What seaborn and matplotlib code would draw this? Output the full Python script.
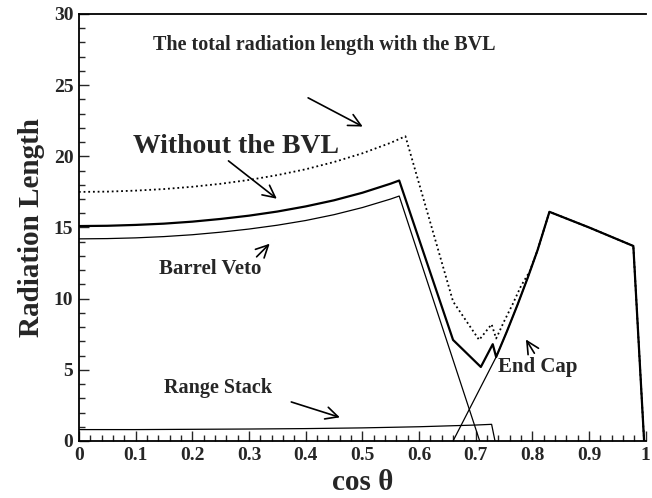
import matplotlib
matplotlib.use("Agg")
import matplotlib.pyplot as plt
from matplotlib.ticker import MultipleLocator
import pandas as pd
import seaborn as sns

# Total radiation length with the BVL (dotted)
total_cos = [0.00, 0.05, 0.10, 0.15, 0.20, 0.25, 0.30, 0.35, 0.40, 0.45, 0.50, 0.55,
             0.576, 0.660, 0.706, 0.728, 0.736, 0.750, 0.765, 0.780, 0.795, 0.809,
             0.830, 0.900, 0.978, 0.997]
total_len = [17.50, 17.52, 17.59, 17.70, 17.86, 18.07, 18.34, 18.68, 19.09, 19.60, 20.21, 20.95,
             21.41, 9.8, 7.1, 8.2, 7.2, 8.4, 9.6, 10.9, 11.9, 13.4,
             16.1, 15.0, 13.7, 0.0]

# Without the BVL (thick solid)
nobvl_cos = [0.00, 0.05, 0.10, 0.15, 0.20, 0.25, 0.30, 0.35, 0.40, 0.45, 0.50, 0.55,
             0.565, 0.660, 0.709, 0.730, 0.736, 0.755, 0.774, 0.792, 0.809, 0.830,
             0.900, 0.978, 0.997]
nobvl_len = [15.10, 15.12, 15.18, 15.27, 15.41, 15.60, 15.83, 16.12, 16.48, 16.91, 17.44, 18.08,
             18.30, 7.1, 5.2, 6.8, 5.9, 7.7, 9.6, 11.5, 13.4, 16.1,
             15.0, 13.7, 0.0]

# Barrel Veto
bv_cos = [0.00, 0.05, 0.10, 0.15, 0.20, 0.25, 0.30, 0.35, 0.40, 0.45, 0.50, 0.55, 0.565, 0.707]
bv_len = [14.20, 14.22, 14.27, 14.36, 14.49, 14.67, 14.89, 15.16, 15.49, 15.90, 16.40, 17.00, 17.21, 0.0]

# Range Stack
rs_cos = [0.00, 0.10, 0.20, 0.30, 0.40, 0.50, 0.60, 0.70, 0.728, 0.734]
rs_len = [0.80, 0.80, 0.82, 0.84, 0.87, 0.92, 1.00, 1.12, 1.17, 0.0]

# End Cap
ec_cos = [0.660, 0.736, 0.755, 0.774, 0.792, 0.809, 0.830, 0.900, 0.978, 0.997]
ec_len = [0.0, 5.9, 7.7, 9.6, 11.5, 13.4, 16.1, 15.0, 13.7, 0.0]

xtick_labels = ["0", "0.1", "0.2", "0.3", "0.4", "0.5", "0.6", "0.7", "0.8", "0.9", "1"]

sns.set_style("ticks")
plt.rcParams["font.family"] = ["Liberation Serif", "DejaVu Serif"]
plt.rcParams["font.weight"] = "bold"
plt.rcParams["axes.labelweight"] = "bold"

fig = plt.figure(figsize=(6.52, 4.98), dpi=100)
ax = fig.add_axes([0.121, 0.1145, 0.9905 - 0.121, 0.9719 - 0.1145])

def frame(c, v):
    return pd.DataFrame({"cos": c, "len": v})

thin = dict(color="black", lw=0.9, sort=False, estimator=None, ax=ax)
sns.lineplot(data=frame(bv_cos, bv_len), x="cos", y="len", **thin)
sns.lineplot(data=frame(rs_cos, rs_len), x="cos", y="len", **thin)
sns.lineplot(data=frame(ec_cos, ec_len), x="cos", y="len", **thin)
sns.lineplot(data=frame(total_cos, total_len), x="cos", y="len", color="black",
             lw=1.3, linestyle=(0, (1, 1.6)), sort=False, estimator=None, ax=ax)
sns.lineplot(data=frame(nobvl_cos, nobvl_len), x="cos", y="len", color="black",
             lw=1.6, sort=False, estimator=None, ax=ax)

ax.set_xlim(0, 1)
ax.set_ylim(0, 30)
ax.set_xticks([i / 10 for i in range(11)])
ax.set_xticklabels(xtick_labels)
ax.xaxis.set_minor_locator(MultipleLocator(0.02))
ax.yaxis.set_major_locator(MultipleLocator(5))
ax.yaxis.set_minor_locator(MultipleLocator(1))
ax.tick_params(which="both", direction="in", width=1.0, labelsize=14, pad=4,
               top=False, right=False)
ax.tick_params(which="major", length=7.5)
ax.tick_params(which="minor", length=4.5)
for s in ax.spines.values():
    s.set_linewidth(1.3)
    s.set_color("black")
ax.spines["right"].set_visible(False)

ax.set_xlabel("cos θ", fontsize=21, labelpad=4)
ax.set_ylabel("Radiation Length", fontsize=21, labelpad=6)

arrow = dict(arrowstyle="->", color="black", lw=1.2, mutation_scale=22)
ax.annotate("The total radiation length with the BVL", xy=(0.505, 22.0), xytext=(0.432, 27.8),
            fontsize=14.5, ha="center", va="center", fontweight="bold")
ax.annotate("", xy=(0.505, 22.0), xytext=(0.40, 24.2), arrowprops=arrow)
ax.annotate("Without the BVL", xy=(0.353, 16.9), xytext=(0.277, 20.7),
            fontsize=20, ha="center", va="center", fontweight="bold")
ax.annotate("", xy=(0.353, 16.9), xytext=(0.26, 19.8), arrowprops=arrow)
ax.annotate("Barrel Veto", xy=(0.34, 14.0), xytext=(0.232, 12.1),
            fontsize=15, ha="center", va="center", fontweight="bold")
ax.annotate("", xy=(0.34, 14.0), xytext=(0.31, 12.8), arrowprops=arrow)
ax.annotate("Range Stack", xy=(0.465, 1.6), xytext=(0.245, 3.7),
            fontsize=14.5, ha="center", va="center", fontweight="bold")
ax.annotate("", xy=(0.465, 1.6), xytext=(0.37, 2.8), arrowprops=arrow)
ax.annotate("End Cap", xy=(0.786, 7.3), xytext=(0.81, 5.2),
            fontsize=15, ha="center", va="center", fontweight="bold")
ax.annotate("", xy=(0.786, 7.3), xytext=(0.806, 6.0), arrowprops=arrow)

fig.savefig("out.png", dpi=100)
